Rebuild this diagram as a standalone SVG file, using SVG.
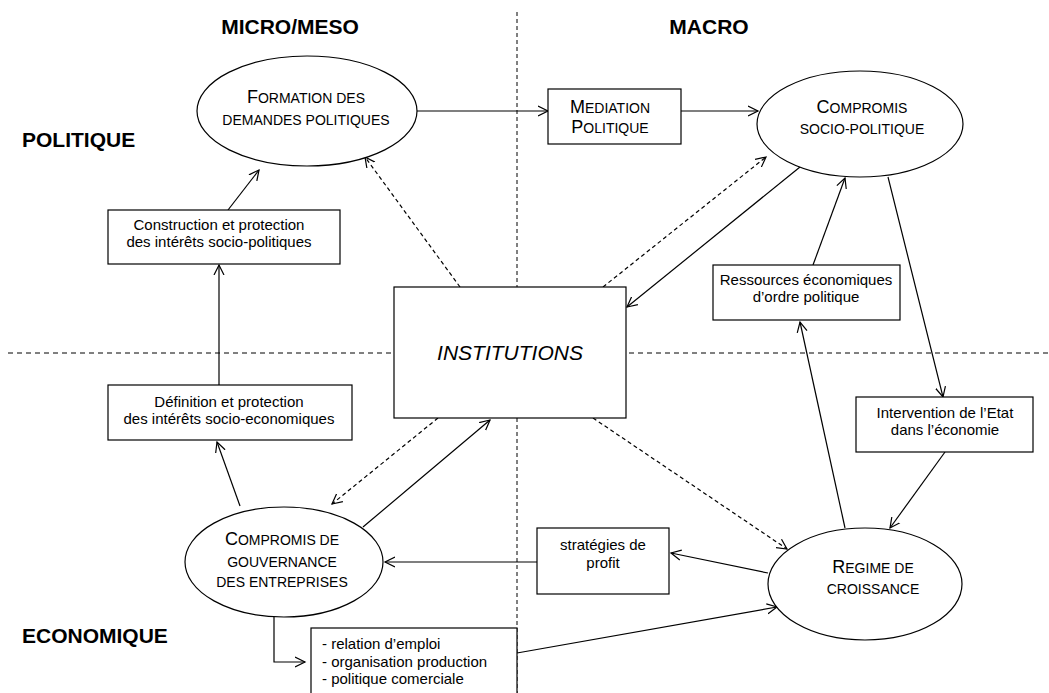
<svg xmlns="http://www.w3.org/2000/svg" width="1049" height="693" viewBox="0 0 1049 693">
<style>
.t{font-family:"Liberation Sans",Arial,sans-serif;font-size:15px;fill:#000}
.sc{font-family:"Liberation Sans",Arial,sans-serif;font-size:14px;fill:#000;text-anchor:middle}
.big{font-size:18px}
.h{font-family:"Liberation Sans",Arial,sans-serif;font-size:21px;font-weight:bold;fill:#000}
.m{text-anchor:middle}
.shape{fill:#fff;stroke:#000;stroke-width:1.2}
.grid{stroke:#000;stroke-width:1;fill:none}
.c{stroke:#000;stroke-width:1.2;fill:none;marker-end:url(#ah)}
.d{stroke-dasharray:4 3}
</style>
<defs>
<marker id="ah" viewBox="0 0 12 12" refX="10" refY="6" markerWidth="12" markerHeight="12" markerUnits="userSpaceOnUse" orient="auto">
<path d="M0,1 L10,6 L0,11" fill="none" stroke="#000" stroke-width="1.2"/>
</marker>
</defs>
<rect width="1049" height="693" fill="#fff"/>
<g id="grid">
<line class="grid" x1="517" y1="12" x2="517" y2="693" stroke-dasharray="4 3"/>
<line class="grid" x1="8" y1="353" x2="1049" y2="353" stroke-dasharray="5 4"/>
</g>
<g id="labels">
<text class="h m" x="290" y="34">MICRO/MESO</text>
<text class="h m" x="709" y="34">MACRO</text>
<text class="h" x="22" y="147">POLITIQUE</text>
<text class="h" x="22" y="643">ECONOMIQUE</text>
</g>
<g id="connectors">
<line class="c" x1="417" y1="111" x2="548" y2="111"/>
<line class="c" x1="681" y1="111" x2="758" y2="111"/>
<line class="c" x1="228" y1="210" x2="259" y2="170"/>
<line class="c" x1="219" y1="385" x2="219" y2="265"/>
<line class="c" x1="240" y1="506" x2="217" y2="442"/>
<line class="c d" x1="460" y1="287" x2="365" y2="157"/>
<line class="c d" x1="603" y1="287" x2="766" y2="157"/>
<line class="c" x1="800" y1="167" x2="627" y2="307"/>
<line class="c" x1="813" y1="265" x2="845" y2="178"/>
<line class="c" x1="888" y1="177" x2="943" y2="397"/>
<line class="c" x1="945" y1="452" x2="890" y2="528"/>
<line class="c" x1="845" y1="528" x2="800" y2="322"/>
<line class="c d" x1="593" y1="418" x2="787" y2="549"/>
<line class="c" x1="768" y1="573" x2="671" y2="553"/>
<line class="c" x1="537" y1="562" x2="385" y2="562"/>
<line class="c" x1="363" y1="527" x2="490" y2="420"/>
<line class="c d" x1="438" y1="418" x2="332" y2="504"/>
<path class="c" d="M274,617 V662 H305"/>
<line class="c" x1="517" y1="653" x2="777" y2="607"/>
</g>
<g id="formation">
<ellipse class="shape" cx="307" cy="111" rx="110" ry="55"/>
<text class="sc" x="306" y="103"><tspan class="big">F</tspan>ORMATION DES</text>
<text class="sc" x="306" y="125">DEMANDES POLITIQUES</text>
</g>
<g id="mediation">
<rect class="shape" x="548" y="89" width="133" height="55"/>
<text class="sc" x="610" y="113"><tspan class="big">M</tspan>EDIATION</text>
<text class="sc" x="610" y="133"><tspan class="big">P</tspan>OLITIQUE</text>
</g>
<g id="compromis-socio">
<ellipse class="shape" cx="860" cy="124" rx="103" ry="53"/>
<text class="sc" x="862" y="113"><tspan class="big">C</tspan>OMPROMIS</text>
<text class="sc" x="862" y="134">SOCIO-POLITIQUE</text>
</g>
<g id="construction">
<rect class="shape" x="108" y="210" width="232" height="54"/>
<text class="t m" x="219" y="230">Construction et protection</text>
<text class="t m" x="219" y="247">des intérêts socio-politiques</text>
</g>
<g id="institutions">
<rect class="shape" x="394" y="287" width="232" height="131"/>
<text class="t m" x="510" y="360" style="font-size:21px;font-style:italic">INSTITUTIONS</text>
</g>
<g id="ressources">
<rect class="shape" x="713" y="265" width="187" height="55"/>
<text class="t m" x="806" y="285">Ressources économiques</text>
<text class="t m" x="806" y="302">d’ordre politique</text>
</g>
<g id="definition">
<rect class="shape" x="108" y="385" width="244" height="55"/>
<text class="t m" x="229" y="407">Définition et protection</text>
<text class="t m" x="229" y="424">des intérêts socio-economiques</text>
</g>
<g id="intervention">
<rect class="shape" x="856" y="397" width="177" height="55"/>
<text class="t m" x="945" y="418">Intervention de l’Etat</text>
<text class="t m" x="945" y="435">dans l’économie</text>
</g>
<g id="gouvernance">
<ellipse class="shape" cx="284" cy="562" rx="99" ry="55"/>
<text class="sc" x="282" y="545"><tspan class="big">C</tspan>OMPROMIS DE</text>
<text class="sc" x="282" y="567">GOUVERNANCE</text>
<text class="sc" x="282" y="587">DES ENTREPRISES</text>
</g>
<g id="strategies">
<rect class="shape" x="537" y="528" width="132" height="66"/>
<text class="t m" x="603" y="550">stratégies de</text>
<text class="t m" x="603" y="568">profit</text>
</g>
<g id="regime">
<ellipse class="shape" cx="865" cy="584" rx="97" ry="56"/>
<text class="sc" x="873" y="573"><tspan class="big">R</tspan>EGIME DE</text>
<text class="sc" x="873" y="594">CROISSANCE</text>
</g>
<g id="liste">
<rect class="shape" x="311" y="628" width="206" height="80"/>
<text class="t" x="322" y="649">- relation d’emploi</text>
<text class="t" x="322" y="667">- organisation production</text>
<text class="t" x="322" y="684">- politique comerciale</text>
</g>
</svg>
